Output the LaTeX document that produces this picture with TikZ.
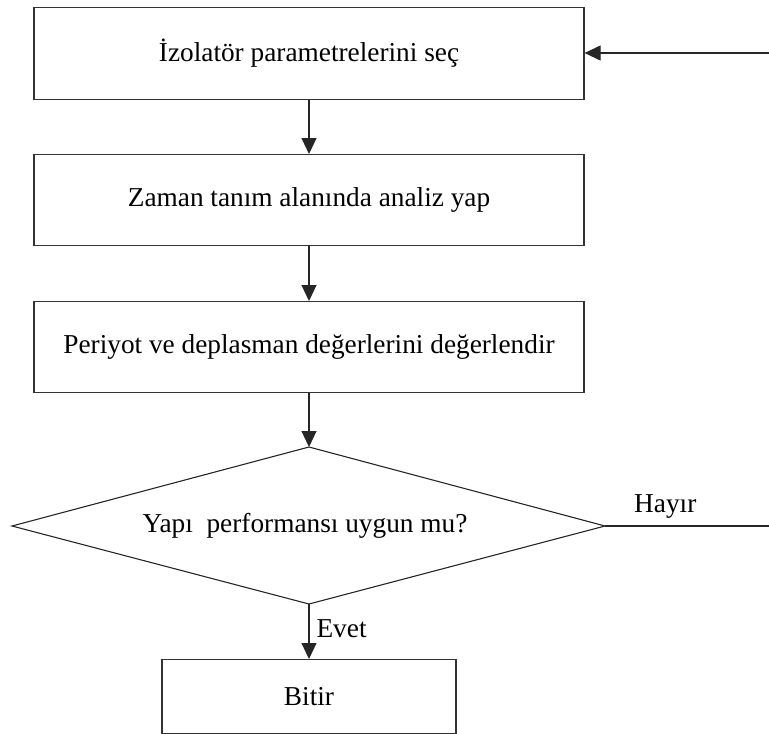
\documentclass[tikz,border=0pt]{standalone}
\usepackage{fontspec}
\setmainfont{Liberation Serif}
\usetikzlibrary{arrows.meta}
\begin{document}
\begin{tikzpicture}[x=1pt,y=-1pt,
  every node/.style={font=\fontsize{27.3}{31}\selectfont, inner sep=0pt},
  stepbox/.style={draw=black!80, line width=1.2pt, minimum width=#1, anchor=north},
  flow/.style={line width=1.1pt, draw=black!85, -{Triangle[length=16pt,width=15pt]}},
  plain/.style={line width=1.1pt, draw=black!85}]
\useasboundingbox (0,0) rectangle (769,734);
\node[stepbox=550pt, minimum height=92pt] (b1) at (309,7) {İzolatör parametrelerini seç};
\node[stepbox=550pt, minimum height=91pt] (b2) at (309,154) {Zaman tanım alanında analiz yap};
\node[stepbox=550pt, minimum height=91pt] (b3) at (309,301) {Periyot ve deplasman değerlerini değerlendir};
\coordinate (dT) at (309,447);
\coordinate (dB) at (309,604);
\coordinate (dL) at (12,526);
\coordinate (dR) at (605,526);
\draw[draw=black!85, line width=1.1pt] (dT) -- (dR) -- (dB) -- (dL) -- cycle;
\node (dq) at (305,526) {Yapı\ \ performansı uygun mu?};
\node[stepbox=294pt, minimum height=74pt] (b4) at (309,659) {Bitir};
\coordinate (hayirEnd) at (769,526);
\coordinate (loopIn) at (769,53);
\draw[flow] (b1.south) -- (b2.north);
\draw[flow] (b2.south) -- (b3.north);
\draw[flow] (b3.south) -- (dT);
\draw[flow] (dB) -- (b4.north) node[pos=0.45, anchor=west, xshift=7pt] (evet) {Evet};
\draw[plain] (dR) -- (hayirEnd);
\node[anchor=base west] (hayir) at (634,512) {Hayır};
\draw[flow] (loopIn) -- (loopIn -| b1.east);
\end{tikzpicture}
\end{document}
